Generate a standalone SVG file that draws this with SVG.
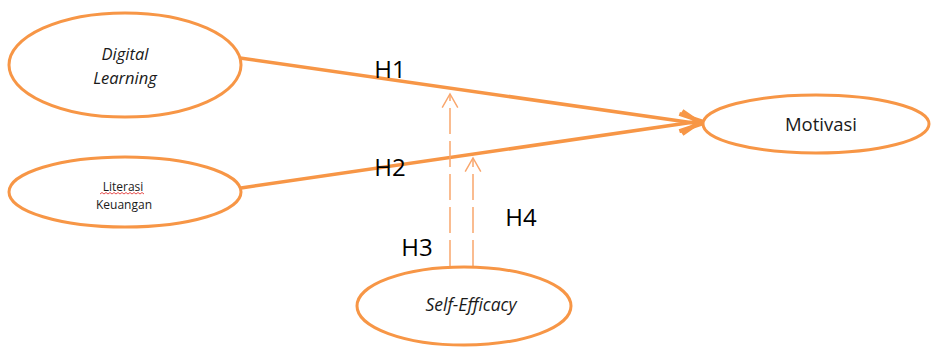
<svg xmlns="http://www.w3.org/2000/svg" width="935" height="350" viewBox="0 0 935 350">
<style>
.node ellipse{fill:#fff;stroke:#F79646;stroke-width:3}
.lbl{font-family:"Open Sans","Liberation Sans",sans-serif;fill:#1a1a1a;text-anchor:middle}
.h{font-family:"Open Sans","Liberation Sans",sans-serif;font-size:24px;fill:#000;text-anchor:middle}
.main{stroke:#F79646;stroke-width:3.5;fill:none}
.dash{stroke:#F9A66C;stroke-width:1.5;fill:none;stroke-dasharray:26 7}
</style>
<defs>
<marker id="ah" viewBox="0 0 12 12" refX="11" refY="6" markerWidth="7" markerHeight="7" orient="auto" markerUnits="strokeWidth">
<path d="M1,1 L11,6 L1,11" fill="none" stroke="#F79646" stroke-width="2"/>
</marker>
<marker id="ahd" viewBox="0 0 20 20" refX="18" refY="10" markerWidth="13" markerHeight="13" orient="auto" markerUnits="strokeWidth">
<path d="M4,2 L18,10 L4,18" fill="none" stroke="#F9A66C" stroke-width="1.5"/>
</marker>
</defs>
<g id="connectors">
<line class="main" x1="240" y1="58" x2="701" y2="124" marker-end="url(#ah)"/>
<line class="main" x1="241" y1="188" x2="701" y2="121" marker-end="url(#ah)"/>
<line class="dash" x1="450" y1="266" x2="450" y2="94" marker-end="url(#ahd)"/>
<line class="dash" x1="473" y1="266" x2="473" y2="158" marker-end="url(#ahd)"/>
<text class="h" x="390" y="78">H1</text>
<text class="h" x="390" y="176">H2</text>
<text class="h" x="417" y="256">H3</text>
<text class="h" x="521" y="226">H4</text>
</g>
<g id="digital-learning" class="node">
<ellipse cx="125" cy="65" rx="116" ry="52"/>
<text class="lbl" x="125" y="60" font-size="16.5" font-style="italic">Digital</text>
<text class="lbl" x="125" y="84" font-size="16.5" font-style="italic">Learning</text>
</g>
<g id="literasi-keuangan" class="node">
<ellipse cx="125" cy="192" rx="116" ry="35"/>
<text class="lbl" x="123" y="191" font-size="12">Literasi</text>
<path d="M100,194 l2,-1.5 l2,1.5 l2,-1.5 l2,1.5 l2,-1.5 l2,1.5 l2,-1.5 l2,1.5 l2,-1.5 l2,1.5 l2,-1.5 l2,1.5 l2,-1.5 l2,1.5 l2,-1.5 l2,1.5 l2,-1.5 l2,1.5 l2,-1.5 l2,1.5 l2,-1.5 l2,1.5" fill="none" stroke="#e02020" stroke-width="0.8"/>
<text class="lbl" x="124" y="209" font-size="12">Keuangan</text>
</g>
<g id="motivasi" class="node">
<ellipse cx="816" cy="124" rx="113" ry="29"/>
<text class="lbl" x="821" y="131" font-size="18.5">Motivasi</text>
</g>
<g id="self-efficacy" class="node">
<ellipse cx="464" cy="306" rx="107" ry="39"/>
<text class="lbl" x="471" y="311" font-size="17.5" font-style="italic">Self-Efficacy</text>
</g>
</svg>
